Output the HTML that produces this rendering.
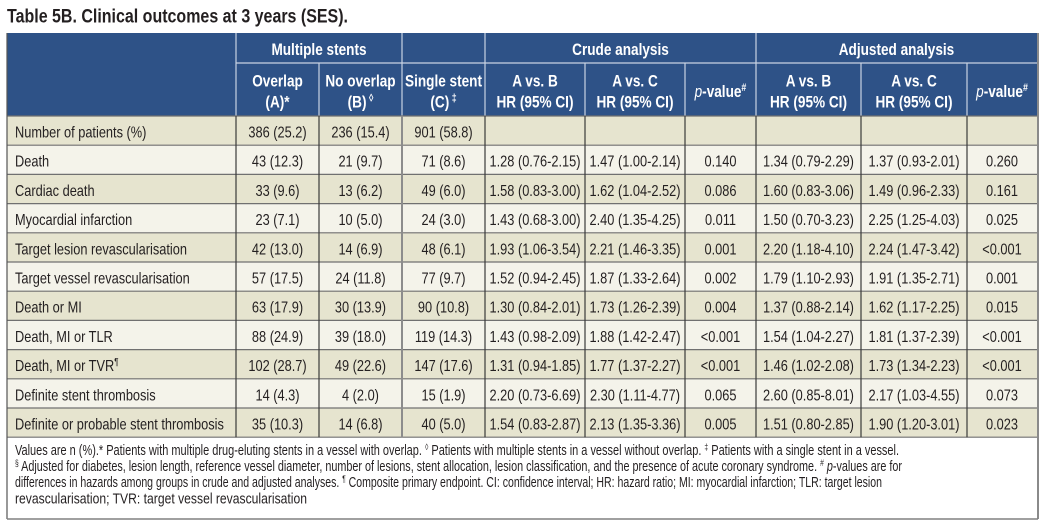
<!DOCTYPE html>
<html>
<head>
<meta charset="utf-8">
<style>
html,body{margin:0;padding:0;background:#fff;}
body{width:1045px;height:523px;overflow:hidden;}
svg{display:block;}
text{font-family:"Liberation Sans",Arial,sans-serif;fill:#231f20;font-size:16px;}
.m{text-anchor:middle;}
.h text{fill:#fff;font-weight:bold;font-size:17px;}
text.fn{font-size:14.5px;}
text.title{font-size:19.5px;font-weight:bold;}
</style>
</head>
<body>
<svg width="1045" height="523" viewBox="0 0 1045 523" xmlns="http://www.w3.org/2000/svg">
<!-- title -->
<text class="title" x="7" y="22.5" style="font-size:19.5px;font-weight:bold" textLength="341" lengthAdjust="spacingAndGlyphs">Table 5B. Clinical outcomes at 3 years (SES).</text>

<!-- header background -->
<rect x="7" y="33" width="1031" height="83" fill="#2e5287"/>

<!-- body row backgrounds -->
<rect x="7" y="116" width="1031" height="29.2" fill="#e6e4cf"/>
<rect x="7" y="145.2" width="1031" height="29.2" fill="#f4f3ea"/>
<rect x="7" y="174.4" width="1031" height="29.2" fill="#e6e4cf"/>
<rect x="7" y="203.6" width="1031" height="29.2" fill="#f4f3ea"/>
<rect x="7" y="232.8" width="1031" height="29.2" fill="#e6e4cf"/>
<rect x="7" y="262" width="1031" height="29.2" fill="#f4f3ea"/>
<rect x="7" y="291.2" width="1031" height="29.2" fill="#e6e4cf"/>
<rect x="7" y="320.4" width="1031" height="29.2" fill="#f4f3ea"/>
<rect x="7" y="349.6" width="1031" height="29.2" fill="#e6e4cf"/>
<rect x="7" y="378.8" width="1031" height="29.2" fill="#f4f3ea"/>
<rect x="7" y="408" width="1031" height="29.2" fill="#e6e4cf"/>

<!-- header light lines -->
<g stroke="#c9d3e3" stroke-width="1.2" fill="none">
<line x1="236" y1="33" x2="236" y2="116"/>
<line x1="402" y1="33" x2="402" y2="116"/>
<line x1="485" y1="33" x2="485" y2="116"/>
<line x1="756" y1="33" x2="756" y2="116"/>
<line x1="236" y1="63" x2="1037" y2="63"/>
<line x1="319" y1="63" x2="319" y2="116"/>
<line x1="585" y1="63" x2="585" y2="116"/>
<line x1="685" y1="63" x2="685" y2="116"/>
<line x1="861" y1="63" x2="861" y2="116"/>
<line x1="967" y1="63" x2="967" y2="116"/>
</g>

<!-- body horizontal lines -->
<g stroke="#707070" stroke-width="1.2">
<line x1="7" y1="116" x2="1038" y2="116"/>
<line x1="7" y1="145.2" x2="1038" y2="145.2"/>
<line x1="7" y1="174.4" x2="1038" y2="174.4"/>
<line x1="7" y1="203.6" x2="1038" y2="203.6"/>
<line x1="7" y1="232.8" x2="1038" y2="232.8"/>
<line x1="7" y1="262" x2="1038" y2="262"/>
<line x1="7" y1="291.2" x2="1038" y2="291.2"/>
<line x1="7" y1="320.4" x2="1038" y2="320.4"/>
<line x1="7" y1="349.6" x2="1038" y2="349.6"/>
<line x1="7" y1="378.8" x2="1038" y2="378.8"/>
<line x1="7" y1="408" x2="1038" y2="408"/>
<line x1="7" y1="437.2" x2="1038" y2="437.2"/>
</g>
<!-- body vertical lines -->
<g stroke="#3a3a3a" stroke-width="1.2">
<line x1="236" y1="116" x2="236" y2="437.2"/>
<line x1="319" y1="116" x2="319" y2="437.2"/>
<line x1="485" y1="116" x2="485" y2="437.2"/>
<line x1="585" y1="116" x2="585" y2="437.2"/>
<line x1="685" y1="116" x2="685" y2="437.2"/>
<line x1="756" y1="116" x2="756" y2="437.2"/>
<line x1="861" y1="116" x2="861" y2="437.2"/>
<line x1="967" y1="116" x2="967" y2="437.2"/>
</g>
<line x1="402" y1="116" x2="402" y2="437.2" stroke="#8c8c8c" stroke-width="2"/>

<!-- outer borders -->
<line x1="7" y1="33" x2="7" y2="519" stroke="#555" stroke-width="1.2"/>
<line x1="1038" y1="33" x2="1038" y2="519" stroke="#8a8a8a" stroke-width="2"/>
<line x1="7" y1="519" x2="1038" y2="519" stroke="#808080" stroke-width="1.5"/>

<!-- header text -->
<g class="h">
<g transform="translate(0,55) scale(.8,1)">
<text x="398.75" class="m">Multiple stents</text>
<text x="775.6" class="m">Crude analysis</text>
<text x="1120.6" class="m">Adjusted analysis</text>
</g>
<g transform="translate(0,86.5) scale(.8,1)">
<text x="346.9" class="m">Overlap</text>
<text x="450.6" class="m">No overlap</text>
<text x="554.4" class="m">Single stent</text>
<text x="668.75" class="m">A vs. B</text>
<text x="793.75" class="m">A vs. C</text>
<text x="1010.6" class="m">A vs. B</text>
<text x="1142.5" class="m">A vs. C</text>
</g>
<g transform="translate(0,107.5) scale(.8,1)">
<text x="346.9" class="m">(A)*</text>
<text x="450.6" class="m">(B)<tspan font-size="11" dy="-6"> ◊</tspan></text>
<text x="554.4" class="m">(C)<tspan font-size="11" dy="-6"> ‡</tspan></text>
<text x="668.75" class="m">HR (95% CI)</text>
<text x="793.75" class="m">HR (95% CI)</text>
<text x="1010.6" class="m">HR (95% CI)</text>
<text x="1142.5" class="m">HR (95% CI)</text>
</g>
<g transform="translate(0,97) scale(.8,1)">
<text x="900.6" class="m"><tspan font-style="italic" font-weight="normal">p</tspan>-value<tspan font-size="11" dy="-6">#</tspan></text>
<text x="1252.5" class="m"><tspan font-style="italic" font-weight="normal">p</tspan>-value<tspan font-size="11" dy="-6">#</tspan></text>
</g>
</g>

<!-- body text -->
<g transform="translate(0,137.5) scale(.8,1)">
<text x="18.75">Number of patients (%)</text>
<text x="346.9" class="m">386 (25.2)</text><text x="450.6" class="m">236 (15.4)</text><text x="554.4" class="m">901 (58.8)</text>
</g>
<g transform="translate(0,166.7) scale(.8,1)">
<text x="18.75">Death</text>
<text x="346.9" class="m">43 (12.3)</text><text x="450.6" class="m">21 (9.7)</text><text x="554.4" class="m">71 (8.6)</text>
<text x="668.75" class="m">1.28 (0.76-2.15)</text><text x="793.75" class="m">1.47 (1.00-2.14)</text><text x="900.6" class="m">0.140</text>
<text x="1010.6" class="m">1.34 (0.79-2.29)</text><text x="1142.5" class="m">1.37 (0.93-2.01)</text><text x="1252.5" class="m">0.260</text>
</g>
<g transform="translate(0,195.9) scale(.8,1)">
<text x="18.75">Cardiac death</text>
<text x="346.9" class="m">33 (9.6)</text><text x="450.6" class="m">13 (6.2)</text><text x="554.4" class="m">49 (6.0)</text>
<text x="668.75" class="m">1.58 (0.83-3.00)</text><text x="793.75" class="m">1.62 (1.04-2.52)</text><text x="900.6" class="m">0.086</text>
<text x="1010.6" class="m">1.60 (0.83-3.06)</text><text x="1142.5" class="m">1.49 (0.96-2.33)</text><text x="1252.5" class="m">0.161</text>
</g>
<g transform="translate(0,225.1) scale(.8,1)">
<text x="18.75">Myocardial infarction</text>
<text x="346.9" class="m">23 (7.1)</text><text x="450.6" class="m">10 (5.0)</text><text x="554.4" class="m">24 (3.0)</text>
<text x="668.75" class="m">1.43 (0.68-3.00)</text><text x="793.75" class="m">2.40 (1.35-4.25)</text><text x="900.6" class="m">0.011</text>
<text x="1010.6" class="m">1.50 (0.70-3.23)</text><text x="1142.5" class="m">2.25 (1.25-4.03)</text><text x="1252.5" class="m">0.025</text>
</g>
<g transform="translate(0,254.3) scale(.8,1)">
<text x="18.75">Target lesion revascularisation</text>
<text x="346.9" class="m">42 (13.0)</text><text x="450.6" class="m">14 (6.9)</text><text x="554.4" class="m">48 (6.1)</text>
<text x="668.75" class="m">1.93 (1.06-3.54)</text><text x="793.75" class="m">2.21 (1.46-3.35)</text><text x="900.6" class="m">0.001</text>
<text x="1010.6" class="m">2.20 (1.18-4.10)</text><text x="1142.5" class="m">2.24 (1.47-3.42)</text><text x="1252.5" class="m">&lt;0.001</text>
</g>
<g transform="translate(0,283.5) scale(.8,1)">
<text x="18.75">Target vessel revascularisation</text>
<text x="346.9" class="m">57 (17.5)</text><text x="450.6" class="m">24 (11.8)</text><text x="554.4" class="m">77 (9.7)</text>
<text x="668.75" class="m">1.52 (0.94-2.45)</text><text x="793.75" class="m">1.87 (1.33-2.64)</text><text x="900.6" class="m">0.002</text>
<text x="1010.6" class="m">1.79 (1.10-2.93)</text><text x="1142.5" class="m">1.91 (1.35-2.71)</text><text x="1252.5" class="m">0.001</text>
</g>
<g transform="translate(0,312.7) scale(.8,1)">
<text x="18.75">Death or MI</text>
<text x="346.9" class="m">63 (17.9)</text><text x="450.6" class="m">30 (13.9)</text><text x="554.4" class="m">90 (10.8)</text>
<text x="668.75" class="m">1.30 (0.84-2.01)</text><text x="793.75" class="m">1.73 (1.26-2.39)</text><text x="900.6" class="m">0.004</text>
<text x="1010.6" class="m">1.37 (0.88-2.14)</text><text x="1142.5" class="m">1.62 (1.17-2.25)</text><text x="1252.5" class="m">0.015</text>
</g>
<g transform="translate(0,341.9) scale(.8,1)">
<text x="18.75">Death, MI or TLR</text>
<text x="346.9" class="m">88 (24.9)</text><text x="450.6" class="m">39 (18.0)</text><text x="554.4" class="m">119 (14.3)</text>
<text x="668.75" class="m">1.43 (0.98-2.09)</text><text x="793.75" class="m">1.88 (1.42-2.47)</text><text x="900.6" class="m">&lt;0.001</text>
<text x="1010.6" class="m">1.54 (1.04-2.27)</text><text x="1142.5" class="m">1.81 (1.37-2.39)</text><text x="1252.5" class="m">&lt;0.001</text>
</g>
<g transform="translate(0,371.1) scale(.8,1)">
<text x="18.75">Death, MI or TVR<tspan font-size="10" dy="-6">¶</tspan></text>
<text x="346.9" class="m">102 (28.7)</text><text x="450.6" class="m">49 (22.6)</text><text x="554.4" class="m">147 (17.6)</text>
<text x="668.75" class="m">1.31 (0.94-1.85)</text><text x="793.75" class="m">1.77 (1.37-2.27)</text><text x="900.6" class="m">&lt;0.001</text>
<text x="1010.6" class="m">1.46 (1.02-2.08)</text><text x="1142.5" class="m">1.73 (1.34-2.23)</text><text x="1252.5" class="m">&lt;0.001</text>
</g>
<g transform="translate(0,400.3) scale(.8,1)">
<text x="18.75">Definite stent thrombosis</text>
<text x="346.9" class="m">14 (4.3)</text><text x="450.6" class="m">4 (2.0)</text><text x="554.4" class="m">15 (1.9)</text>
<text x="668.75" class="m">2.20 (0.73-6.69)</text><text x="793.75" class="m">2.30 (1.11-4.77)</text><text x="900.6" class="m">0.065</text>
<text x="1010.6" class="m">2.60 (0.85-8.01)</text><text x="1142.5" class="m">2.17 (1.03-4.55)</text><text x="1252.5" class="m">0.073</text>
</g>
<g transform="translate(0,429.5) scale(.8,1)">
<text x="18.75">Definite or probable stent thrombosis</text>
<text x="346.9" class="m">35 (10.3)</text><text x="450.6" class="m">14 (6.8)</text><text x="554.4" class="m">40 (5.0)</text>
<text x="668.75" class="m">1.54 (0.83-2.87)</text><text x="793.75" class="m">2.13 (1.35-3.36)</text><text x="900.6" class="m">0.005</text>
<text x="1010.6" class="m">1.51 (0.80-2.85)</text><text x="1142.5" class="m">1.90 (1.20-3.01)</text><text x="1252.5" class="m">0.023</text>
</g>

<!-- footnotes -->
<text class="fn" x="15" y="455" textLength="884" lengthAdjust="spacingAndGlyphs">Values are n (%).* Patients with multiple drug-eluting stents in a vessel with overlap. <tspan font-size="9" dy="-5">◊</tspan><tspan dy="5"> Patients with multiple stents in a vessel without overlap. </tspan><tspan font-size="9" dy="-5">‡</tspan><tspan dy="5"> Patients with a single stent in a vessel.</tspan></text>
<text class="fn" x="15" y="471" textLength="887" lengthAdjust="spacingAndGlyphs"><tspan font-size="9" dy="-5">§</tspan><tspan dy="5"> Adjusted for diabetes, lesion length, reference vessel diameter, number of lesions, stent allocation, lesion classification, and the presence of acute coronary syndrome. </tspan><tspan font-size="9" dy="-5">#</tspan><tspan dy="5"> </tspan><tspan font-style="italic">p</tspan>-values are for</text>
<text class="fn" x="15" y="487" textLength="867" lengthAdjust="spacingAndGlyphs">differences in hazards among groups in crude and adjusted analyses. <tspan font-size="9" dy="-5">¶</tspan><tspan dy="5"> Composite primary endpoint. CI: confidence interval; HR: hazard ratio; MI: myocardial infarction; TLR: target lesion</tspan></text>
<text class="fn" x="15" y="503.5" textLength="292" lengthAdjust="spacingAndGlyphs">revascularisation; TVR: target vessel revascularisation</text>
</svg>
</body>
</html>
